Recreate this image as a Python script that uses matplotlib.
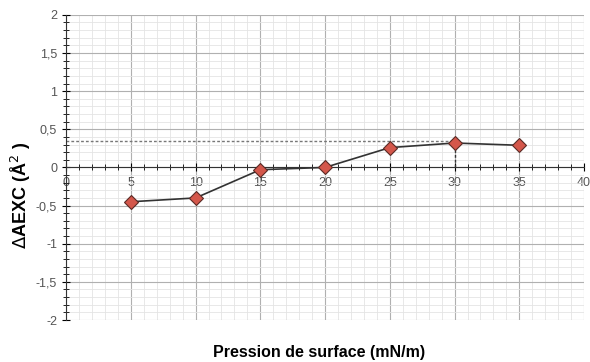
import matplotlib.pyplot as plt
import numpy as np
from matplotlib.ticker import MultipleLocator, FuncFormatter

pression = [5, 10, 15, 20, 25, 30, 35]
delta_aexc = [-0.45, -0.40, -0.03, 0.0, 0.26, 0.32, 0.29]
ref_x = 30
ref_y = 0.35

plt.rcParams['font.family'] = ['Liberation Sans', 'DejaVu Sans']

fig = plt.figure(figsize=(5.9, 3.62), dpi=100)
ax = fig.add_axes([0.112, 0.116, 0.878, 0.843])

ax.set_xlim(0, 40)
ax.set_ylim(-2, 2)

ax.xaxis.set_major_locator(MultipleLocator(5))
ax.xaxis.set_minor_locator(MultipleLocator(1))
ax.yaxis.set_major_locator(MultipleLocator(0.5))
ax.yaxis.set_minor_locator(MultipleLocator(0.1))

ax.grid(which='minor', color='#e4e4e4', lw=0.6)
ax.grid(which='major', color='#b0b0b0', lw=0.8)
ax.set_axisbelow(True)

fmt = FuncFormatter(lambda v, p: ('%g' % v).replace('.', ','))
ax.xaxis.set_major_formatter(fmt)
ax.yaxis.set_major_formatter(fmt)

for s in ['top', 'right']:
    ax.spines[s].set_visible(False)
ax.spines['bottom'].set_position(('data', 0))
ax.spines['bottom'].set_color('#333333')
ax.spines['left'].set_color('#333333')
ax.spines['bottom'].set_zorder(1)

ax.tick_params(axis='x', which='major', direction='inout', length=6, labelsize=9, labelcolor='#555555', pad=4)
ax.tick_params(axis='x', which='minor', direction='inout', length=4)
ax.tick_params(axis='y', which='major', direction='inout', length=6, labelsize=9, labelcolor='#555555')
ax.tick_params(axis='y', which='minor', direction='inout', length=4)

# reference lines
ax.plot([0, ref_x], [ref_y, ref_y], ls=(0, (2, 1.5)), color='#777777', lw=1)
ax.plot([ref_x, ref_x], [0, ref_y], ls=(0, (2, 1.5)), color='#333333', lw=1)

ax.plot(pression, delta_aexc, color='#333333', lw=1.2, marker='D', ms=7,
        markerfacecolor='#d4574b', markeredgecolor='#5a2a25', markeredgewidth=0.8, zorder=5)

fig.text(0.036, 0.46, '$\\Delta$AEXC (Å$^2$ )', rotation=90, ha='center', va='center',
         fontsize=13, fontweight='bold')
fig.text(0.54, 0.027, 'Pression de surface (mN/m)', ha='center', va='center',
         fontsize=11.5, fontweight='bold')

fig.savefig('out.png', dpi=100)
